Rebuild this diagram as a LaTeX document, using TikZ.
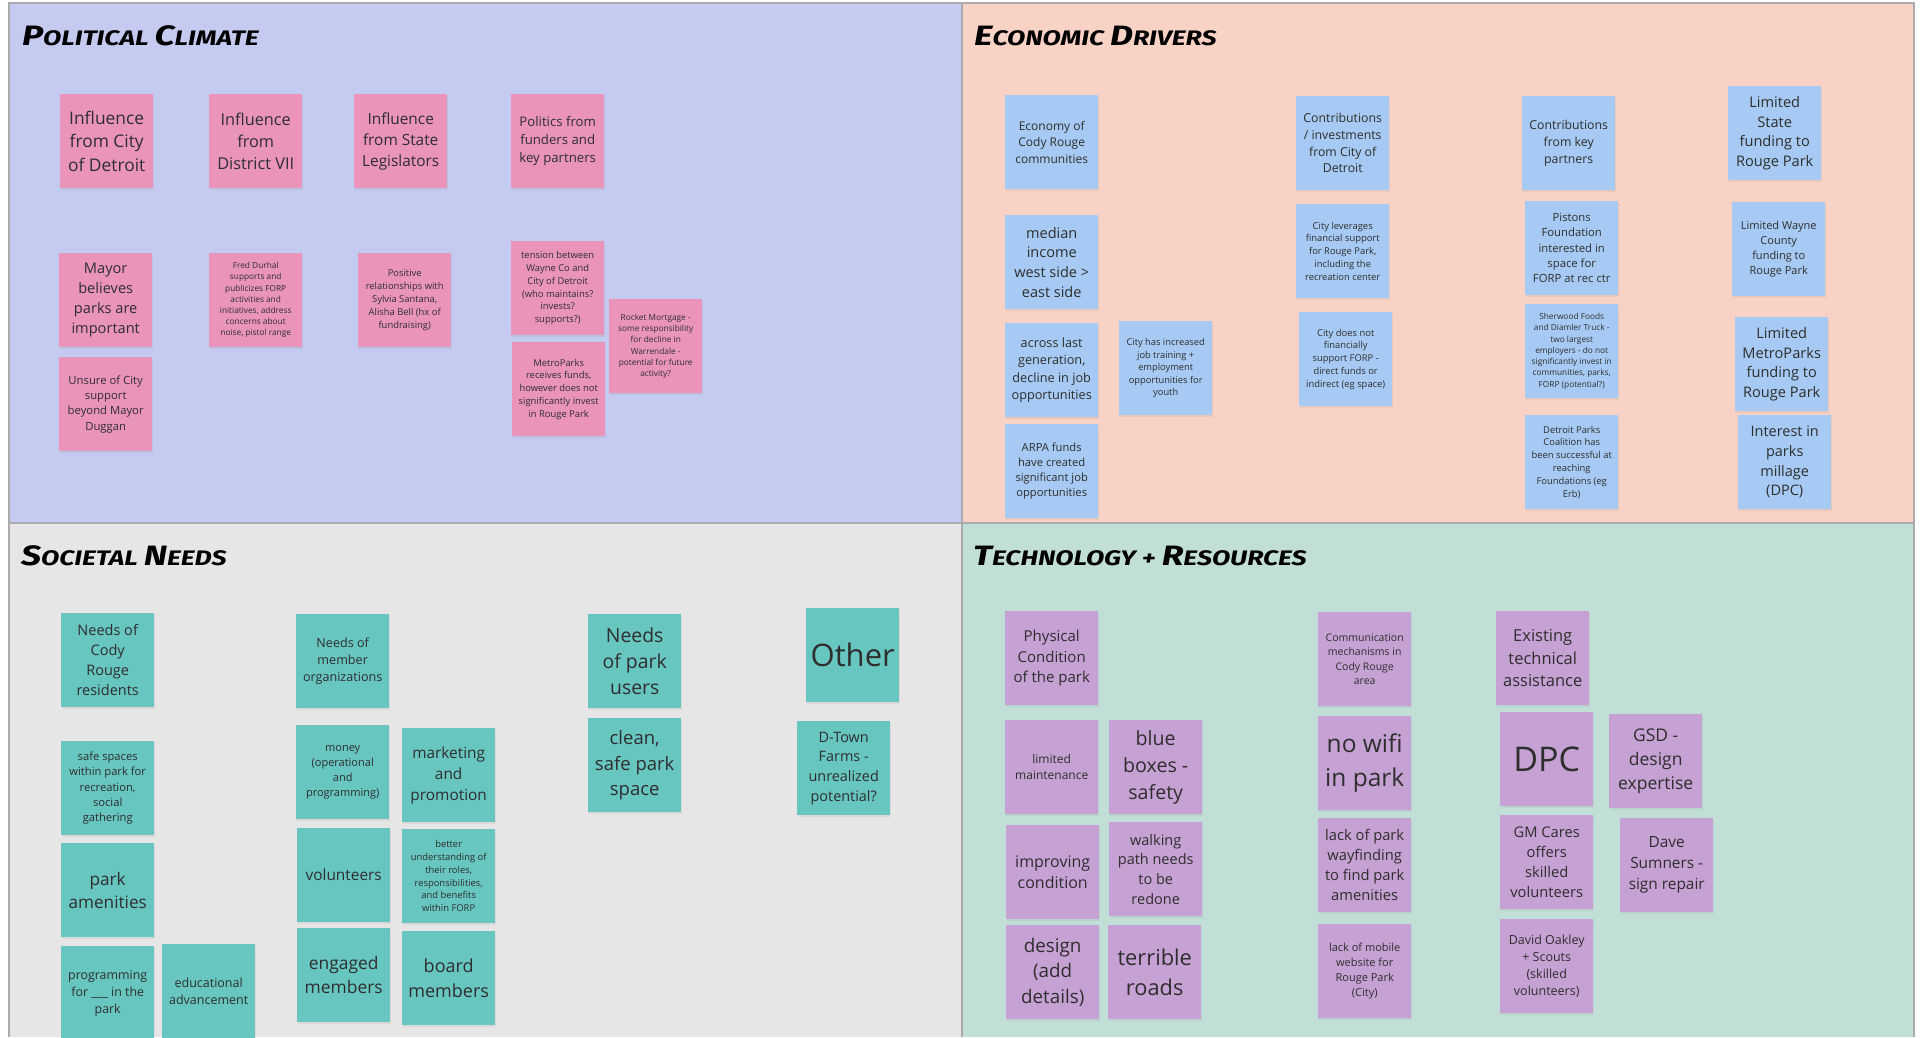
\documentclass[tikz,border=0pt]{standalone}
\usepackage{graphicx}
\usepackage{fontspec}
\setmainfont{Open Sans}
\newfontfamily\titlefont{Fira Sans}
\usetikzlibrary{shadows}

\definecolor{polbg}{HTML}{C5CAF0}
\definecolor{econbg}{HTML}{F8D3C5}
\definecolor{socbg}{HTML}{E6E6E6}
\definecolor{techbg}{HTML}{C2DFD7}
\definecolor{pinknote}{HTML}{EA94BC}
\definecolor{bluenote}{HTML}{A6CAF3}
\definecolor{tealnote}{HTML}{67C6BF}
\definecolor{purplenote}{HTML}{C6A1D3}
\definecolor{framegray}{HTML}{ABABAB}
\definecolor{notetext}{HTML}{2E2E2E}

\newcommand\nsize[2]{\fontsize{#1}{#2}\selectfont}
\newcommand\initcap[1]{{\fontsize{28}{28}\selectfont #1}}
\newcommand\headtext[1]{\scalebox{1.27}[1]{#1}}

\tikzset{
  sticky/.style={anchor=north west, minimum width=93, minimum height=94, inner sep=2pt,
    align=center, text=notetext,
    drop shadow={opacity=0.12, shadow xshift=1pt, shadow yshift=-1.5pt}},
  pnote/.style={sticky, fill=pinknote},
  bnote/.style={sticky, fill=bluenote},
  tnote/.style={sticky, fill=tealnote},
  vnote/.style={sticky, fill=purplenote},
  heading/.style={anchor=base west, inner sep=0pt,
    font=\titlefont\bfseries\itshape\fontsize{21}{21}\selectfont},
  frame/.style={draw=framegray, line width=1.5pt}
}

\begin{document}
\begin{tikzpicture}[x=1pt,y=-1pt]
\useasboundingbox (0,0) rectangle (1921,1037);
\fill[polbg] (9,3) rectangle (962,523);
\fill[econbg] (962,3) rectangle (1914,523);
\fill[socbg] (9,523) rectangle (962,1037);
\fill[techbg] (962,523) rectangle (1914,1037);
\draw[frame] (9,1037) -- (9,3) -- (1914,3) -- (1914,1037);
\draw[frame] (962,3) -- (962,1037);
\draw[frame] (9,523) -- (1914,523);

\node[heading] (poltitle) at (22,45) {\headtext{\initcap{P}OLITICAL \initcap{C}LIMATE}};
\node[heading] (econtitle) at (974,45) {\headtext{\initcap{E}CONOMIC \initcap{D}RIVERS}};
\node[heading] (soctitle) at (21,565) {\headtext{\initcap{S}OCIETAL \initcap{N}EEDS}};
\node[heading] (techtitle) at (973,565) {\headtext{\initcap{T}ECHNOLOGY + \initcap{R}ESOURCES}};

\node[pnote, font=\nsize{17.4}{23.7}] (infcity) at (60,94) {Influence\\from City\\of Detroit};
\node[pnote, font=\nsize{16.3}{22.2}] (infdistrict) at (209,94) {Influence\\from\\District VII};
\node[pnote, font=\nsize{15.4}{21}] (infstate) at (354,94) {Influence\\from State\\Legislators};
\node[pnote, font=\nsize{13.2}{18}] (funders) at (511,94) {Politics from\\funders and\\key partners};
\node[pnote, font=\nsize{14.6}{19.8}] (mayor) at (59,253) {Mayor\\believes\\parks are\\important};
\node[pnote, font=\nsize{11.3}{15.3}] (unsure) at (59,357) {Unsure of City\\support\\beyond Mayor\\Duggan};
\node[pnote, font=\nsize{8.3}{11.2}] (durhal) at (209,253) {Fred Durhal\\supports and\\publicizes FORP\\activities and\\initiatives, address\\concerns about\\noise, pistol range};
\node[pnote, font=\nsize{9.4}{12.8}] (santana) at (358,253) {Positive\\relationships with\\Sylvia Santana,\\Alisha Bell (hx of\\fundraising)};
\node[pnote, font=\nsize{9.4}{12.8}] (tension) at (511,241) {tension between\\Wayne Co and\\City of Detroit\\(who maintains?\\invests?\\supports?)};
\node[pnote, font=\nsize{9.4}{12.8}] (metroparks) at (512,342) {MetroParks\\receives funds,\\however does not\\significantly invest\\in Rouge Park};
\node[pnote, font=\nsize{8.3}{11.3}] (rocket) at (609,299) {Rocket Mortgage -\\some responsibility\\for decline in\\Warrendale -\\potential for future\\activity?};

\node[bnote, font=\nsize{12}{16.3}] (economy) at (1005,95) {Economy of\\Cody Rouge\\communities};
\node[bnote, font=\nsize{14.5}{19.7}] (median) at (1005,215) {median\\income\\west side >\\east side};
\node[bnote, font=\nsize{12.7}{17.2}] (decline) at (1005,323) {across last\\generation,\\decline in job\\opportunities};
\node[bnote, font=\nsize{11.2}{15.2}] (arpa) at (1005,424) {ARPA funds\\have created\\significant job\\opportunities};
\node[bnote, font=\nsize{9.3}{12.6}] (training) at (1119,321) {City has increased\\job training +\\employment\\opportunities for\\youth};
\node[bnote, font=\nsize{12.3}{16.7}] (citycontrib) at (1296,96) {Contributions\\/ investments\\from City of\\Detroit};
\node[bnote, font=\nsize{9.4}{12.8}] (leverages) at (1296,204) {City leverages\\financial support\\for Rouge Park,\\including the\\recreation center};
\node[bnote, font=\nsize{9.4}{12.75}] (notsupport) at (1299,312) {City does not\\financially\\support FORP -\\direct funds or\\indirect (eg space)};
\node[bnote, font=\nsize{12.3}{16.7}] (keycontrib) at (1522,96) {Contributions\\from key\\partners};
\node[bnote, font=\nsize{11.3}{15.3}] (pistons) at (1525,201) {Pistons\\Foundation\\interested in\\space for\\FORP at rec ctr};
\node[bnote, font=\nsize{8.3}{11.3}] (sherwood) at (1525,304) {Sherwood Foods\\and Diamler Truck -\\two largest\\employers - do not\\significantly invest in\\communities, parks,\\FORP (potential?)};
\node[bnote, font=\nsize{9.4}{12.8}] (coalition) at (1525,415) {Detroit Parks\\Coalition has\\been successful at\\reaching\\Foundations (eg\\Erb)};
\node[bnote, font=\nsize{14.6}{19.9}] (statefund) at (1728,86) {Limited\\State\\funding to\\Rouge Park};
\node[bnote, font=\nsize{11}{15}] (waynefund) at (1732,202) {Limited Wayne\\County\\funding to\\Rouge Park};
\node[bnote, font=\nsize{14.6}{19.8}] (metrofund) at (1735,317) {Limited\\MetroParks\\funding to\\Rouge Park};
\node[bnote, font=\nsize{14.5}{19.7}] (millage) at (1738,415) {Interest in\\parks\\millage\\(DPC)};

\node[tnote, font=\nsize{14.5}{19.8}] (residents) at (61,613) {Needs of\\Cody\\Rouge\\residents};
\node[tnote, font=\nsize{11.2}{15.25}] (safespaces) at (61,741) {safe spaces\\within park for\\recreation,\\social\\gathering};
\node[tnote, font=\nsize{17.2}{23.3}] (amenities) at (61,843) {park\\amenities};
\node[tnote, font=\nsize{12.4}{16.8}] (programming) at (61,946) {programming\\for \_\_\_ in the\\park};
\node[tnote, font=\nsize{12.5}{17}] (education) at (162,944) {educational\\advancement};
\node[tnote, font=\nsize{12.6}{17.2}] (members) at (296,614) {Needs of\\member\\organizations};
\node[tnote, font=\nsize{11}{14.9}] (money) at (296,725) {money\\(operational\\and\\programming)};
\node[tnote, font=\nsize{15.4}{21}] (marketing) at (402,728) {marketing\\and\\promotion};
\node[tnote, font=\nsize{15.4}{21}] (volunteers) at (297,828) {volunteers};
\node[tnote, font=\nsize{9.4}{12.7}] (roles) at (402,829) {better\\understanding of\\their roles,\\responsibilities,\\and benefits\\within FORP};
\node[tnote, font=\nsize{17.4}{23.7}] (engaged) at (297,928) {engaged\\members};
\node[tnote, font=\nsize{18}{24.7}] (board) at (402,931) {board\\members};
\node[tnote, font=\nsize{19.4}{26.3}] (parkusers) at (588,614) {Needs\\of park\\users};
\node[tnote, font=\nsize{18.5}{25.2}] (cleanspace) at (588,718) {clean,\\safe park\\space};
\node[tnote, font=\nsize{31}{40}] (other) at (806,608) {Other};
\node[tnote, font=\nsize{14.4}{19.6}] (dtown) at (797,721) {D-Town\\Farms -\\unrealized\\potential?};

\node[vnote, font=\nsize{15}{20.5}] (physical) at (1005,611) {Physical\\Condition\\of the park};
\node[vnote, font=\nsize{12}{16.3}] (maintenance) at (1005,720) {limited\\maintenance};
\node[vnote, font=\nsize{19.6}{26.7}] (blueboxes) at (1109,720) {blue\\boxes -\\safety};
\node[vnote, font=\nsize{16}{21.7}] (improving) at (1006,825) {improving\\condition};
\node[vnote, font=\nsize{14.5}{19.7}] (walking) at (1109,822) {walking\\path needs\\to be\\redone};
\node[vnote, font=\nsize{18.8}{25.5}] (design) at (1006,925) {design\\(add\\details)};
\node[vnote, font=\nsize{21.8}{29.7}] (roads) at (1108,925) {terrible\\roads};
\node[vnote, font=\nsize{10.5}{14.3}] (communication) at (1318,612) {Communication\\mechanisms in\\Cody Rouge\\area};
\node[vnote, font=\nsize{24.5}{33.3}] (wifi) at (1318,716) {no wifi\\in park};
\node[vnote, font=\nsize{14.7}{20}] (wayfinding) at (1318,818) {lack of park\\wayfinding\\to find park\\amenities};
\node[vnote, font=\nsize{11}{15.1}] (mobile) at (1318,924) {lack of mobile\\website for\\Rouge Park\\(City)};
\node[vnote, font=\nsize{16.5}{22.5}] (assistance) at (1496,611) {Existing\\technical\\assistance};
\node[vnote, font=\nsize{34}{40}] (dpc) at (1500,712) {DPC};
\node[vnote, font=\nsize{17.5}{23.8}] (gsd) at (1609,714) {GSD -\\design\\expertise};
\node[vnote, font=\nsize{14.7}{20}] (gmcares) at (1500,815) {GM Cares\\offers\\skilled\\volunteers};
\node[vnote, font=\nsize{15.4}{21}] (sumners) at (1620,818) {Dave\\Sumners -\\sign repair};
\node[vnote, font=\nsize{12.5}{17}] (oakley) at (1500,919) {David Oakley\\+ Scouts\\(skilled\\volunteers)};
\end{tikzpicture}
\end{document}
